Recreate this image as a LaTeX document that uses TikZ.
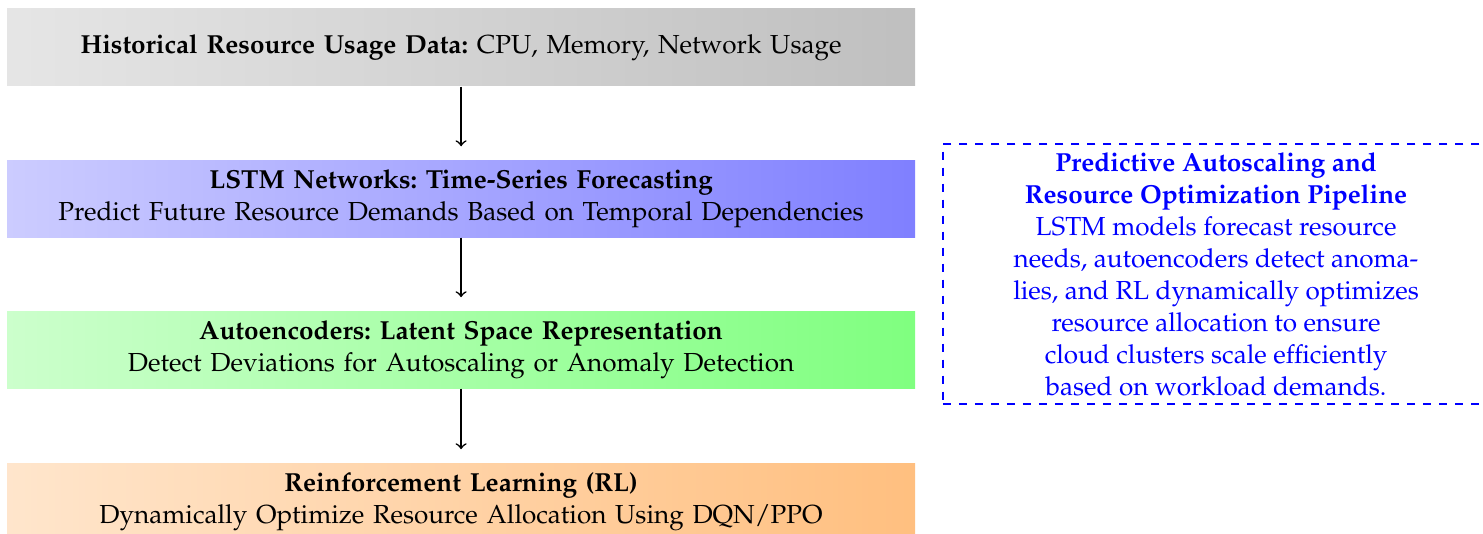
\documentclass[tikz,border=0pt]{standalone}
\usepackage[T1]{fontenc}
\usepackage{mathpazo}
\begin{document}
\frenchspacing
\begin{tikzpicture}[
  font=\fontsize{9.78pt}{12pt}\selectfont,
  stage/.style={minimum width=340.5pt, minimum height=28.9pt, inner sep=0pt, align=center, text width=340pt},
  flow/.style={->, line width=0.6pt, shorten >=5pt},
  note/.style={draw=blue, dashed, line width=0.5pt, text=blue, align=center, minimum width=204.8pt, minimum height=97.5pt, inner sep=2pt}
]
\useasboundingbox (0pt,0pt) rectangle (556.1pt,-199.9pt);
\node[stage, left color=gray!20, right color=gray!50] (hist) at (172.9pt,-17.8pt)
  {\textbf{Historical Resource Usage Data:} CPU, Memory, Network Usage};
\node[stage, left color=blue!20, right color=blue!50] (lstm) at (172.9pt,-74.5pt)
  {\textbf{LSTM Networks: Time-Series Forecasting}\\ Predict Future Resource Demands Based on Temporal Dependencies};
\node[stage, left color=green!20, right color=green!50] (ae) at (172.9pt,-131.1pt)
  {\textbf{Autoencoders: Latent Space Representation}\\ Detect Deviations for Autoscaling or Anomaly Detection};
\node[stage, left color=orange!20, right color=orange!50] (rl) at (172.9pt,-188.1pt)
  {\textbf{Reinforcement Learning (RL)}\\ Dynamically Optimize Resource Allocation Using DQN/PPO};
\node[note] (note) at (456pt,-102.75pt)
  {\textbf{Predictive Autoscaling and}\\ \textbf{Resource Optimization Pipeline}\\ LSTM models forecast resource\\ needs, autoencoders detect anoma-\\ lies, and RL dynamically optimizes\\ resource allocation to ensure\\ cloud clusters scale efficiently\\ based on workload demands.};
\draw[flow] (hist.south) -- (lstm.north);
\draw[flow] (lstm.south) -- (ae.north);
\draw[flow] (ae.south) -- (rl.north);
\end{tikzpicture}
\end{document}
